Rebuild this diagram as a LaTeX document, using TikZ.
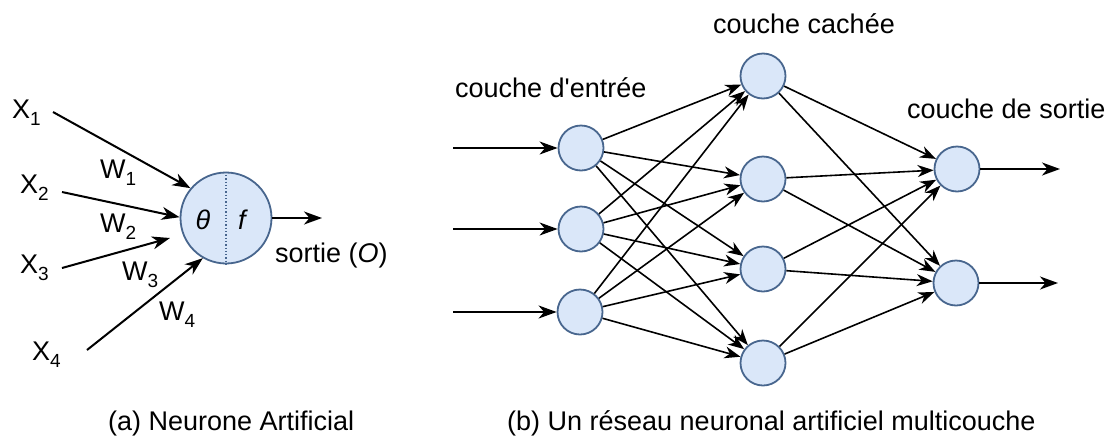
\documentclass[tikz,border=0pt]{standalone}
\usepackage{fontspec}
\setmainfont{Liberation Sans}
\usetikzlibrary{arrows.meta}
\definecolor{nfill}{RGB}{218,231,249}
\definecolor{nedge}{RGB}{72,102,142}
% lowered index digit, as in X1, W1
\newcommand{\lowidx}[1]{\raisebox{-7pt}{\fontsize{19}{19}\selectfont #1}}

\begin{document}
\begin{tikzpicture}[x=1pt,y=-1pt,
  every node/.style={font=\fontsize{27}{32}\selectfont, inner sep=0pt},
  lbl/.style={anchor=base west},
  unit/.style={circle, draw=nedge, fill=nfill, line width=1.8pt, minimum size=45pt},
  soma/.style={circle, draw=nedge, fill=nfill, line width=1.8pt, minimum size=91pt},
  link/.style={line width=1.6pt, -{Stealth[length=16pt,width=12pt,inset=5pt]}},
  feed/.style={line width=2pt, -{Stealth[length=18pt,width=13pt,inset=5.5pt]}},
]
\useasboundingbox (0,0) rectangle (1114,437);

% ---------- (a) single artificial neuron ----------
\node[soma] (n) at (226,218) {};
\draw[nedge, dotted, line width=1.3pt] (n.north) -- (n.south);
\node (theta) at (203,220) {\textit{θ}};
\node (f) at (243,220) {\textit{f}};

\node[lbl] (x1) at (12,118) {X\lowidx{1}};
\node[lbl] (x2) at (20,193) {X\lowidx{2}};
\node[lbl] (x3) at (20,273) {X\lowidx{3}};
\node[lbl] (x4) at (32,360) {X\lowidx{4}};

\node[lbl] (w1) at (100,178) {W\lowidx{1}};
\node[lbl] (w2) at (100,232) {W\lowidx{2}};
\node[lbl] (w3) at (122,280) {W\lowidx{3}};
\node[lbl] (w4) at (159,320) {W\lowidx{4}};

\coordinate (s1) at (53,112);
\coordinate (s2) at (62,192);
\coordinate (s3) at (62,268);
\coordinate (e3) at (170,238);
\coordinate (s4) at (87,350);
\coordinate (sout) at (322,218);

\draw[feed] (s1) -- (n.140);
\draw[feed] (s2) -- (n.179);
\draw[feed] (s3) -- (e3);
\draw[feed] (s4) -- (n.240);
\draw[feed] (n.east) -- (sout);

\node[lbl] (out) at (275,262) {sortie (\textit{O})};

% ---------- (b) multilayer network ----------
\node[unit] (i1) at (581,148) {};
\node[unit] (i2) at (581,229) {};
\node[unit] (i3) at (580,312) {};

\node[unit] (h1) at (763,76) {};
\node[unit] (h2) at (763,179) {};
\node[unit] (h3) at (763,269) {};
\node[unit] (h4) at (763,363) {};

\node[unit] (o1) at (957,169) {};
\node[unit] (o2) at (956,283) {};

\foreach \i in {1,2,3}
  \foreach \h in {1,2,3,4}
    \draw[link] (i\i) -- (h\h);
\foreach \h in {1,2,3,4}
  \foreach \o in {1,2}
    \draw[link] (h\h) -- (o\o);

\coordinate (a1) at (453,148);
\coordinate (a2) at (453,229);
\coordinate (a3) at (453,312);
\draw[feed] (a1) -- (i1.west);
\draw[feed] (a2) -- (i2.west);
\draw[feed] (a3) -- (i3.west);

\coordinate (b1) at (1060,169);
\coordinate (b2) at (1058,283);
\draw[feed] (o1.east) -- (b1);
\draw[feed] (o2.east) -- (b2);

\node[lbl] (lin) at (455,97) {couche d\textquotesingle entrée};
\node[lbl] (lhid) at (713,33) {couche cachée};
\node[lbl] (lout) at (907,118) {couche de sortie};

% ---------- captions ----------
\node[lbl] (capa) at (108,430) {(a) Neurone Artificial};
\node[lbl] (capb) at (507,430) {(b) Un réseau neuronal artificiel multicouche};
\end{tikzpicture}
\end{document}
